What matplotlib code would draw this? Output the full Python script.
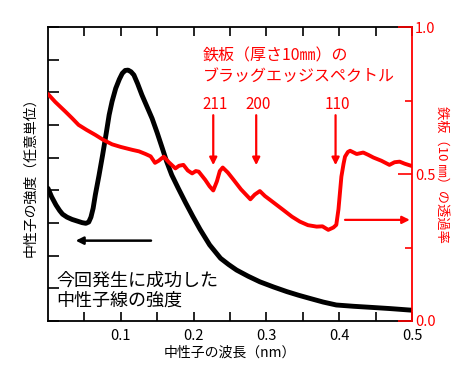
import matplotlib
matplotlib.use("Agg")
import matplotlib.pyplot as plt
from matplotlib.ticker import MultipleLocator, FixedLocator, NullFormatter

plt.rcParams['font.family'] = ['Noto Sans CJK JP', 'DejaVu Sans']

# Neutron intensity (arbitrary units, left axis 0-9)
neutron_wl = [0.0, 0.005, 0.011, 0.016, 0.020, 0.026, 0.033, 0.040, 0.047, 0.052,
              0.056, 0.059, 0.062, 0.065, 0.070, 0.075, 0.080, 0.084, 0.088, 0.093,
              0.098, 0.102, 0.106, 0.110, 0.114, 0.118, 0.123, 0.129, 0.136, 0.143,
              0.150, 0.157, 0.163, 0.170, 0.179, 0.189, 0.199, 0.209, 0.222, 0.237,
              0.248, 0.259, 0.275, 0.291, 0.310, 0.328, 0.344, 0.360, 0.378, 0.396,
              0.420, 0.442, 0.470, 0.5]
neutron_int = [4.06, 3.80, 3.55, 3.38, 3.27, 3.18, 3.11, 3.06, 3.01, 2.99,
               3.03, 3.18, 3.45, 3.86, 4.45, 5.08, 5.75, 6.31, 6.72, 7.12,
               7.40, 7.58, 7.67, 7.68, 7.63, 7.53, 7.27, 6.92, 6.56, 6.20,
               5.76, 5.29, 4.88, 4.47, 4.06, 3.62, 3.20, 2.80, 2.33, 1.92,
               1.73, 1.56, 1.37, 1.20, 1.04, 0.90, 0.79, 0.69, 0.58, 0.49,
               0.45, 0.42, 0.38, 0.33]

# Iron plate (10 mm) transmission (right axis 0-1)
iron_wl = [0.0, 0.010, 0.024, 0.033, 0.042, 0.053, 0.065, 0.076, 0.088, 0.100,
           0.116, 0.125, 0.134, 0.141, 0.147, 0.152, 0.159, 0.166, 0.175, 0.180,
           0.186, 0.192, 0.198, 0.203, 0.207, 0.216, 0.222, 0.227, 0.232, 0.236,
           0.240, 0.247, 0.255, 0.265, 0.278, 0.284, 0.291, 0.298, 0.305, 0.314,
           0.323, 0.335, 0.346, 0.357, 0.369, 0.377, 0.385, 0.392, 0.396, 0.399,
           0.403, 0.406, 0.408, 0.412, 0.415, 0.424, 0.433, 0.440, 0.447, 0.458,
           0.469, 0.476, 0.483, 0.490, 0.5]
iron_tr = [0.772, 0.745, 0.712, 0.690, 0.667, 0.650, 0.633, 0.616, 0.601, 0.592,
           0.582, 0.577, 0.568, 0.560, 0.538, 0.545, 0.559, 0.540, 0.519, 0.528,
           0.531, 0.512, 0.502, 0.510, 0.508, 0.480, 0.458, 0.444, 0.475, 0.510,
           0.522, 0.505, 0.480, 0.448, 0.414, 0.430, 0.442, 0.425, 0.412, 0.395,
           0.378, 0.355, 0.338, 0.326, 0.321, 0.322, 0.310, 0.318, 0.327, 0.380,
           0.491, 0.535, 0.559, 0.575, 0.579, 0.568, 0.573, 0.565, 0.556, 0.545,
           0.531, 0.540, 0.542, 0.535, 0.527]

# Bragg edge markers
edge_labels = ['211', '200', '110']
edge_pos = [0.227, 0.286, 0.395]

x_ticks_major = [0.1, 0.2, 0.3, 0.4, 0.5]
x_tick_labels = ['0.1', '0.2', '0.3', '0.4', '0.5']

RED = '#ff0000'

fig = plt.figure(figsize=(4.72, 3.91), dpi=100)
ax = fig.add_axes([48/472, 1-321/391, 364/472, 294/391])
ax2 = ax.twinx()

ax.plot(neutron_wl, neutron_int, color='black', lw=3.5, solid_joinstyle='round',
        solid_capstyle='round', zorder=3)
ax2.plot(iron_wl, iron_tr, color=RED, lw=2.8, solid_joinstyle='round',
         solid_capstyle='round', zorder=3)

ax.set_xlim(0, 0.5)
ax.set_ylim(0, 9)
ax2.set_ylim(0, 1)

# x ticks
ax.xaxis.set_major_locator(FixedLocator(x_ticks_major))
ax.set_xticklabels(x_tick_labels)
ax.xaxis.set_minor_locator(FixedLocator([0.05, 0.15, 0.25, 0.35, 0.45]))
ax.tick_params(axis='x', which='both', direction='in', top=True, length=6.5,
               width=1.2, labelsize=10.5, pad=6)
# left y ticks (no labels)
ax.yaxis.set_major_locator(MultipleLocator(1))
ax.yaxis.set_major_formatter(NullFormatter())
ax.tick_params(axis='y', which='both', direction='in', length=8, width=1.2, right=False)

# right y
ax2.yaxis.set_major_locator(FixedLocator([0.0, 0.5, 1.0]))
ax2.set_yticklabels(['0.0', '0.5', '1.0'])
ax2.yaxis.set_minor_locator(FixedLocator([0.25, 0.75]))
ax2.tick_params(axis='y', which='major', direction='in', length=10, width=1.2,
                colors=RED, labelsize=10.5, pad=2)
ax2.tick_params(axis='y', which='minor', direction='in', length=5, width=1.2, colors=RED)

for s in ['left', 'bottom', 'top']:
    ax.spines[s].set_linewidth(1.3)
ax.spines['right'].set_visible(False)
ax2.spines['right'].set_color(RED)
ax2.spines['right'].set_linewidth(1.3)
for s in ['left', 'bottom', 'top']:
    ax2.spines[s].set_visible(False)

ax.set_xlabel('中性子の波長（nm）', fontsize=10, labelpad=2)
ax.set_ylabel('中性子の強度（任意単位）', fontsize=10, labelpad=4)
ax2.set_ylabel('鉄板（10 ㎜）の透過率', fontsize=9.5, color=RED, rotation=270,
               labelpad=9)

# Red title
ax2.text(0.213, 0.867, '鉄板（厚さ10㎜）の\nブラッグエッジスペクトル', color=RED,
         fontsize=11.5, ha='left', va='center', linespacing=1.3)

# Bragg edge labels and arrows
for lab, xp in zip(edge_labels, edge_pos):
    ax2.text(xp + 0.002, 0.735, lab, color=RED, fontsize=11, ha='center', va='center')
    ax2.annotate('', xy=(xp, 0.53), xytext=(xp, 0.70),
                 arrowprops=dict(arrowstyle='-|>', color=RED, lw=1.6,
                                 mutation_scale=11, shrinkA=0, shrinkB=0))

# red horizontal arrow pointing right axis
ax2.annotate('', xy=(0.497, 0.344), xytext=(0.408, 0.344),
             arrowprops=dict(arrowstyle='-|>', color=RED, lw=1.6,
                             mutation_scale=11, shrinkA=0, shrinkB=0))

# black arrow pointing to left axis
ax.annotate('', xy=(0.038, 2.46), xytext=(0.1415, 2.46),
            arrowprops=dict(arrowstyle='-|>', color='black', lw=1.8,
                            mutation_scale=11, shrinkA=0, shrinkB=0))

ax.text(0.011, 0.93, '今回発生に成功した\n中性子線の強度', color='black', fontsize=13,
        ha='left', va='center', linespacing=1.15)

fig.savefig('out.png', dpi=100)
